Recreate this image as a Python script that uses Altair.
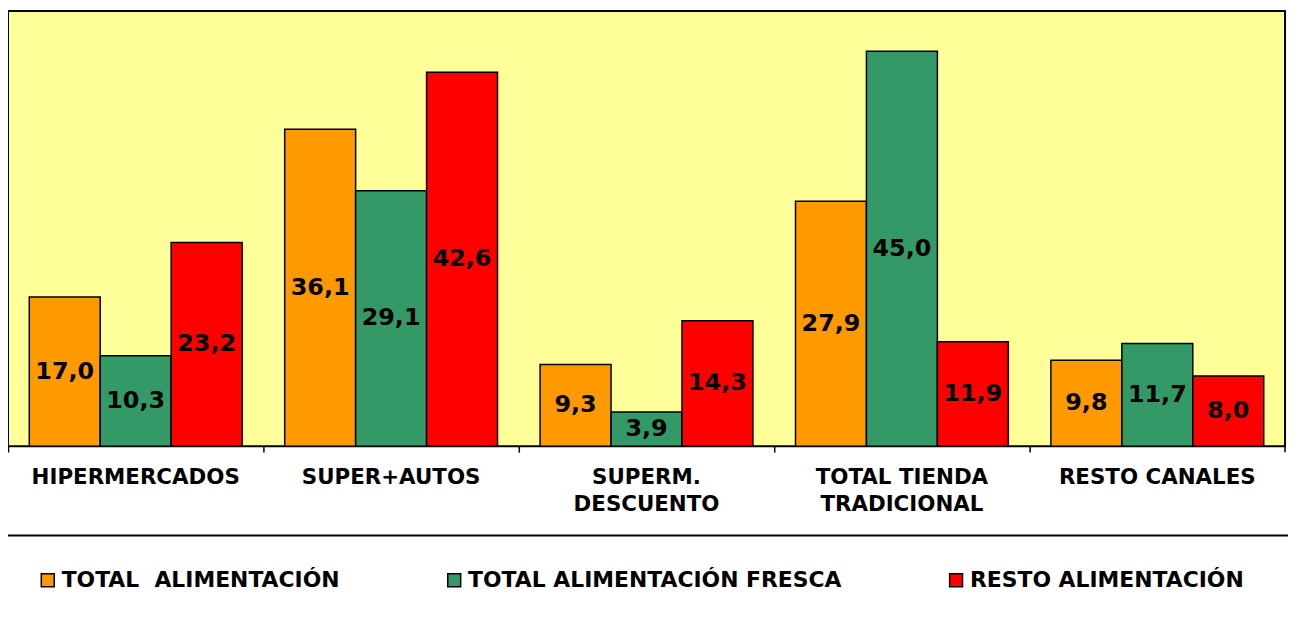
import altair as alt
import pandas as pd

categories = ["HIPERMERCADOS", "SUPER+AUTOS", "SUPERM.|DESCUENTO",
              "TOTAL TIENDA|TRADICIONAL", "RESTO CANALES"]
series = ["TOTAL  ALIMENTACIÓN", "TOTAL ALIMENTACIÓN FRESCA", "RESTO ALIMENTACIÓN"]
total_alimentacion = [17.0, 36.1, 9.3, 27.9, 9.8]
total_fresca = [10.3, 29.1, 3.9, 45.0, 11.7]
resto_alimentacion = [23.2, 42.6, 14.3, 11.9, 8.0]
colors = ["#FF9900", "#339966", "#FF0000"]

rows = []
for s, vals in zip(series, [total_alimentacion, total_fresca, resto_alimentacion]):
    for c, v in zip(categories, vals):
        rows.append({"canal": c, "serie": s, "valor": v})
df = pd.DataFrame(rows)

FONT = "DejaVu Sans"

x = alt.X("canal:N", sort=categories, title=None,
          scale=alt.Scale(paddingInner=0, paddingOuter=0),
          axis=alt.Axis(labelExpr="split(datum.label, '|')", labelAngle=0,
                        bandPosition=0, tickSize=6, tickColor="black", tickWidth=1.5,
                        domain=False, labelFont=FONT, labelFontWeight="bold",
                        labelFontSize=21.5, labelColor="black", labelPadding=15,
                        labelLineHeight=27, labelBaseline="top", labelLimit=400))
xo = alt.XOffset("serie:N", sort=series,
                 scale=alt.Scale(paddingInner=0, paddingOuter=0.3))

base = alt.Chart(df)

bars = base.mark_bar(stroke="black", strokeWidth=1.5).encode(
    x=x, xOffset=xo,
    y=alt.Y("valor:Q", scale=alt.Scale(domain=[0, 49.6], nice=False), axis=None),
    color=alt.Color("serie:N", sort=series,
                    scale=alt.Scale(domain=series, range=colors),
                    legend=alt.Legend(title=None, orient="none", legendX=29, legendY=562,
                                      direction="horizontal", symbolType="square",
                                      symbolSize=169, symbolStrokeColor="black",
                                      symbolStrokeWidth=1.5, symbolOpacity=1,
                                      labelFont=FONT, labelFontWeight="bold",
                                      labelFontSize=22, labelColor="black",
                                      labelOffset=3, columnPadding=104,
                                      labelLimit=600,
                                      labelExpr="replace(datum.label, '  ', '\u00a0 ')")),
)

labels = base.transform_calculate(
    mid="datum.valor / 2",
    txt="replace(format(datum.valor, '.1f'), '.', ',')"
).mark_text(font=FONT, fontWeight="bold", fontSize=24, color="black",
            baseline="middle", align="center").encode(
    x=x, xOffset=xo,
    y=alt.Y("mid:Q", scale=alt.Scale(domain=[0, 49.6], nice=False), axis=None),
    text="txt:N",
)

sep = alt.Chart(pd.DataFrame({"a": [0]})).mark_rule(color="black", strokeWidth=2).encode(
    x=alt.value(-8), x2=alt.value(1288), y=alt.value(528))
endtick = alt.Chart(pd.DataFrame({"a": [0]})).mark_rule(color="black", strokeWidth=1.5).encode(
    x=alt.value(1285), y=alt.value(438), y2=alt.value(444))

chart = alt.layer(bars, labels, sep, endtick).properties(
    width=1285, height=438,
    autosize=alt.AutoSizeParams(type="none"),
    padding={"left": 0, "top": 1, "right": 3, "bottom": 170},
    background="white",
).configure_view(fill="#FFFF99", stroke="black", strokeWidth=2)

chart.save("out.html", embed_options={"renderer": "svg", "actions": False})
